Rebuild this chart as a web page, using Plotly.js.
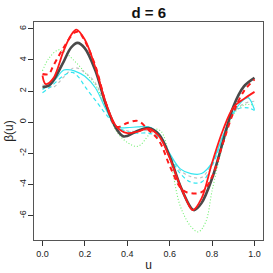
<!DOCTYPE html>
<html>
<head>
<meta charset="utf-8">
<script src="https://cdn.plot.ly/plotly-3.0.1.min.js"></script>
<style>html,body{margin:0;padding:0;background:#fff;}#chart{width:273px;height:273px;}</style>
</head>
<body>
<div id="chart"></div>
<script>
// ---- data ----
const uTrue = [0,0.03,0.05,0.1,0.135,0.165,0.2,0.25,0.3,0.35,0.38,0.4,0.45,0.5,0.55,0.6,0.65,0.7,0.715,0.75,0.8,0.85,0.9,0.95,1.0];
const yTrue = [2.25,2.35,2.65,3.9,4.8,5.1,4.75,3.3,1.1,-0.45,-0.9,-0.88,-0.55,-0.38,-0.8,-2.2,-4.1,-5.5,-5.65,-5.2,-3.6,-1.3,1.0,2.3,2.85];

const uRed = [0,0.015,0.05,0.1,0.135,0.16,0.2,0.25,0.3,0.35,0.4,0.45,0.5,0.55,0.6,0.65,0.7,0.71,0.75,0.8,0.85,0.9,0.95,1.0];
const yRed = [3.0,2.45,2.8,4.6,5.6,5.95,5.3,3.5,1.2,-0.3,-0.7,-0.6,-0.42,-0.9,-2.3,-4.1,-5.55,-5.65,-4.9,-2.6,-0.55,0.95,1.5,1.95];

const uRedDash = [0,0.03,0.05,0.1,0.15,0.17,0.2,0.25,0.3,0.35,0.4,0.45,0.5,0.55,0.6,0.65,0.68,0.75,0.8,0.85,0.9,0.95,1.0];
const yRedDash = [3.1,3.1,3.6,4.8,5.75,5.8,5.2,3.6,1.2,-0.3,-0.05,0.08,-0.5,-1.2,-2.8,-4.2,-4.5,-4.5,-3.5,-1.4,0.6,2.0,2.75];

const uCyan = [0,0.05,0.1,0.12,0.15,0.2,0.25,0.3,0.35,0.4,0.45,0.5,0.55,0.6,0.65,0.7,0.75,0.8,0.85,0.9,0.95,0.97,1.0];
const yCyan = [2.1,2.6,3.35,3.38,3.3,2.95,2.2,0.8,-0.3,-0.35,-0.3,-0.3,-0.75,-2.0,-3.0,-3.3,-3.3,-2.6,-0.9,0.6,1.45,1.58,0.8];

const uCyanDash = [0,0.04,0.1,0.14,0.17,0.2,0.25,0.3,0.35,0.4,0.45,0.5,0.55,0.6,0.65,0.7,0.75,0.8,0.85,0.9,0.93,0.97,1.0];
const yCyanDash = [1.9,2.3,3.0,3.2,2.9,2.3,1.4,0.5,-0.3,-0.6,-0.7,-0.7,-1.0,-2.2,-3.3,-3.85,-3.85,-2.8,-1.0,0.6,0.9,0.92,0.75];

const uGrey = [0,0.05,0.1,0.15,0.2,0.25,0.3,0.35,0.4,0.45,0.5,0.55,0.6,0.65,0.7,0.75,0.8,0.85,0.9,0.95,1.0];
const yGrey = [2.4,2.25,2.9,3.5,3.2,2.5,1.0,-0.3,-0.55,-0.6,-0.55,-1.0,-2.1,-3.1,-3.5,-3.55,-2.6,-0.9,0.6,1.2,1.35];

const uGreen = [0,0.03,0.075,0.1,0.15,0.2,0.25,0.3,0.35,0.4,0.45,0.5,0.53,0.56,0.6,0.65,0.7,0.735,0.77,0.8,0.85,0.9,0.95,1.0];
const yGreen = [3.3,4.1,4.65,4.55,3.95,3.2,2.4,0.9,-0.6,-1.3,-1.55,-0.85,-0.45,-0.6,-2.3,-5.4,-6.7,-7.05,-6.4,-4.4,-1.5,0.5,1.1,1.1];

const xTicks = [0,0.2,0.4,0.6,0.8,1.0];
const xTickText = ["0.0","0.2","0.4","0.6","0.8","1.0"];
const yTicks = [-6,-4,-2,0,2,4,6];
const yTickText = ["-6","-4","-2","0","2","4","6"];

function tr(x,y,color,width,dash){
  return {x:x,y:y,type:'scatter',mode:'lines',hoverinfo:'skip',
    line:{color:color,width:width,dash:dash,shape:'spline',smoothing:1}};
}
const traces = [
  tr(uGreen,yGreen,'#70f070',1.1,'1px,2px'),
  tr(uGrey,yGrey,'#c0c0c0',1.2,'3px,3px'),
  tr(uCyanDash,yCyanDash,'#33e6f0',1.2,'4px,3px'),
  tr(uCyan,yCyan,'#33e6f0',1.2,'solid'),
  tr(uTrue,yTrue,'#4a4a4a',2.6,'solid'),
  tr(uRedDash,yRedDash,'#ff1a1a',2,'5px,4px'),
  tr(uRed,yRed,'#ff1a1a',1.8,'solid')
];

const font = {family:'"Liberation Sans", Arial, Helvetica, sans-serif', color:'#222'};
const layout = {
  width:273, height:273,
  margin:{l:34, r:10, t:22, b:33, pad:0},
  paper_bgcolor:'#fff', plot_bgcolor:'#fff',
  showlegend:false,
  font:font,
  title:{text:'<b>d = 6</b>', x:0.545, xanchor:'center', y:0.955, yanchor:'middle',
    font:{family:font.family, size:15, color:'#111'}},
  xaxis:{range:[-0.04,1.04], tickmode:'array', tickvals:xTicks, ticktext:xTickText,
    ticks:'outside', ticklen:5, tickwidth:1, tickcolor:'#333',
    showline:true, mirror:true, linecolor:'#555', linewidth:1,
    showgrid:false, zeroline:false, tickfont:{size:9, color:'#222'},
    title:{text:'u', font:{size:12, color:'#222'}, standoff:2}, automargin:false},
  yaxis:{range:[-7.57,6.44], tickmode:'array', tickvals:yTicks, ticktext:yTickText,
    ticks:'outside', ticklen:5, tickwidth:1, tickcolor:'#333', tickangle:-90,
    ticklabelstandoff:-2,
    showline:true, mirror:true, linecolor:'#555', linewidth:1,
    showgrid:false, zeroline:false, tickfont:{size:9, color:'#222'},
    title:{text:'β(u)', font:{size:12, color:'#222'}, standoff:2}, automargin:false}
};
Plotly.newPlot('chart', traces, layout, {staticPlot:true, displayModeBar:false});
</script>
</body>
</html>
